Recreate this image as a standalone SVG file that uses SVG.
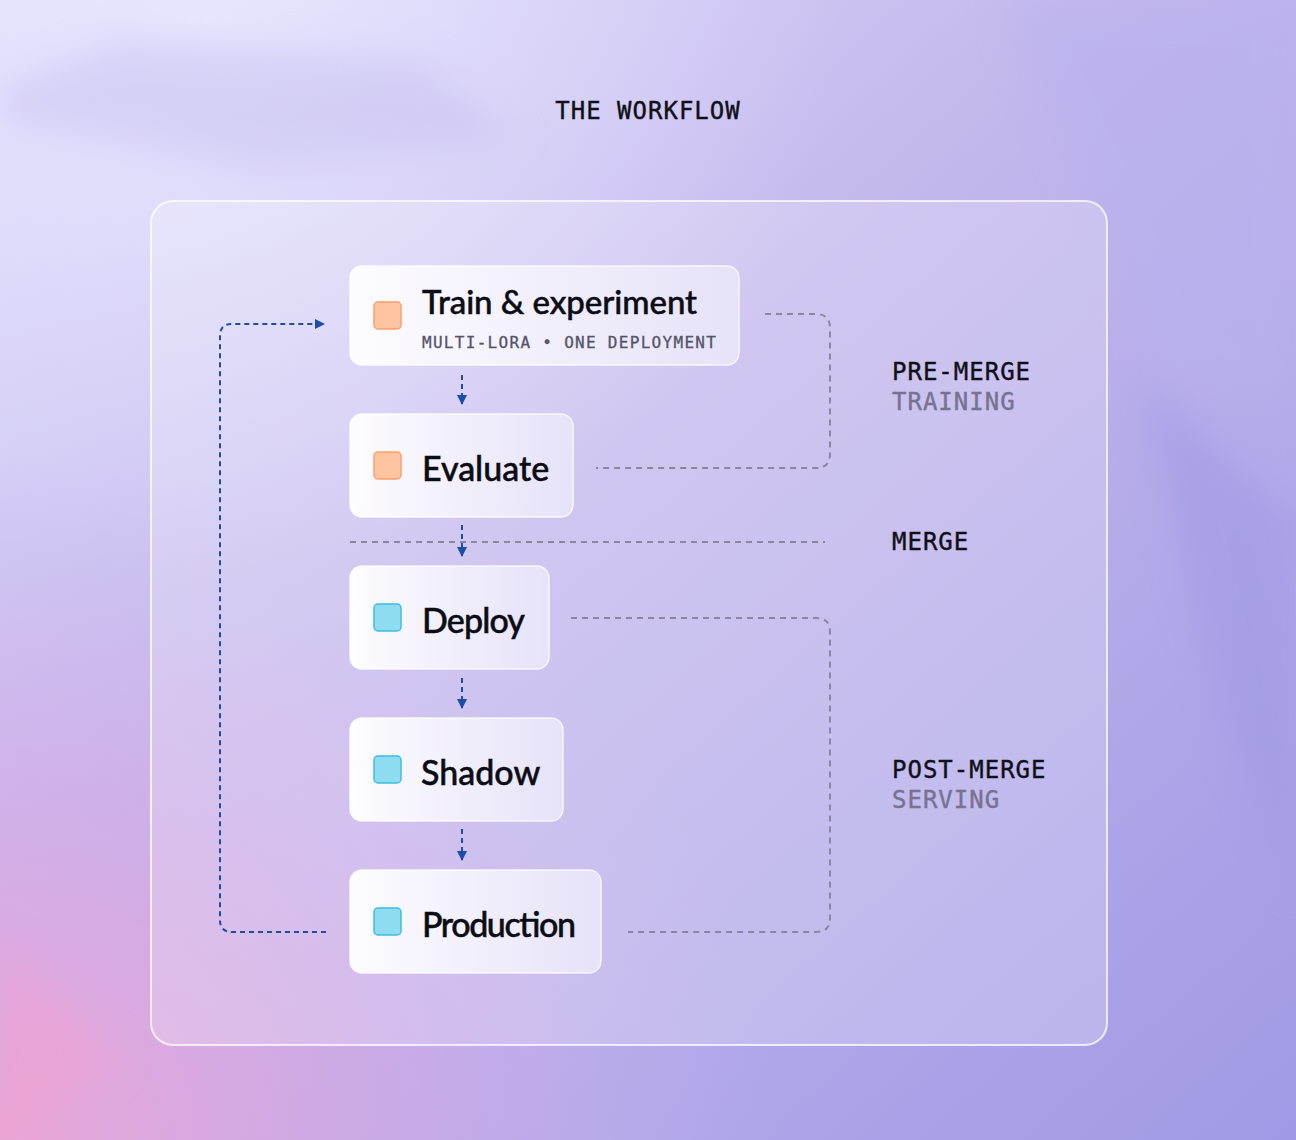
<svg xmlns="http://www.w3.org/2000/svg" width="1296" height="1140" viewBox="0 0 1296 1140">
<defs>
<linearGradient id="bg" x1="0" y1="0" x2="1" y2="1">
<stop offset="0" stop-color="#e2e0fc"/>
<stop offset="0.45" stop-color="#c2b6ec"/>
<stop offset="1" stop-color="#a09ae6"/>
</linearGradient>
<radialGradient id="pink" cx="0" cy="1" r="0.6">
<stop offset="0" stop-color="#eaa6d6"/>
<stop offset="0.5" stop-color="#d6a8e4" stop-opacity="0.6"/>
<stop offset="1" stop-color="#c8b4ee" stop-opacity="0"/>
</radialGradient>
<radialGradient id="light" cx="0.15" cy="0" r="0.5">
<stop offset="0" stop-color="#e8e6fe"/>
<stop offset="1" stop-color="#e0dcfc" stop-opacity="0"/>
</radialGradient>
<linearGradient id="node" x1="0" y1="0" x2="1" y2="0">
<stop offset="0" stop-color="#fdfcff"/>
<stop offset="1" stop-color="#e6e2f8"/>
</linearGradient>
<filter id="blur" x="-20%" y="-20%" width="140%" height="140%"><feGaussianBlur stdDeviation="18"/></filter>
<marker id="arr" viewBox="0 0 10 10" refX="9" refY="5" markerWidth="10" markerHeight="10" markerUnits="userSpaceOnUse" orient="auto">
<path d="M0,0 L10,5 L0,10 z" fill="#1a4ea8"/>
</marker>
<style>
.node rect.box{fill:url(#node);stroke:#ffffff;stroke-opacity:0.8;stroke-width:1.5}
.sq-o{fill:#ffc4a0;stroke:#ff9d6c;stroke-width:1.5}
.sq-b{fill:#8edcf0;stroke:#3cbfe0;stroke-width:1.5}
.title{font-family:Lato,"Noto Sans",sans-serif;font-weight:500;fill:#0c0c14;stroke:#0c0c14;stroke-width:0.5}
.mono{font-family:"DejaVu Sans Mono","Liberation Mono",monospace}
.lbl{font-size:24px;letter-spacing:1px;fill:#101018;stroke:#101018;stroke-width:0.4}
.sub{fill:#777292;stroke:#777292}
.flow{fill:none;stroke:#1a4ea8;stroke-width:2;stroke-dasharray:5 4}
.brk{fill:none;stroke:#8b86a0;stroke-width:2;stroke-dasharray:6 5}
</style>
</defs>
<rect width="1296" height="1140" fill="url(#bg)"/>
<rect width="1296" height="1140" fill="url(#light)"/>
<rect width="1296" height="1140" fill="url(#pink)"/>
<g filter="url(#blur)" opacity="0.5">
<path d="M0,90 L120,40 L420,60 L520,140 L260,170 L0,120 z" fill="#c8c0f0"/>
<path d="M1000,0 L1296,0 L1296,420 L1160,360 z" fill="#b8b2ee"/>
<path d="M1140,380 L1296,520 L1296,900 L1220,700 z" fill="#9c98e4"/>
<path d="M0,940 L120,1060 L0,1140 z" fill="#f0a0d0"/>
</g>
<rect x="151" y="201" width="956" height="844" rx="22" fill="#ffffff" fill-opacity="0.22" stroke="#ffffff" stroke-opacity="0.75" stroke-width="2"/>
<text class="mono lbl" x="648" y="119" text-anchor="middle">THE WORKFLOW</text>
<g id="connectors">
<path class="flow" d="M326,932 L232,932 Q220,932 220,920 L220,336 Q220,324 232,324 L324,324" marker-end="url(#arr)"/>
<path class="flow" d="M462,375 L462,404" marker-end="url(#arr)"/>
<path class="flow" d="M462,525 L462,556" marker-end="url(#arr)"/>
<path class="flow" d="M462,678 L462,708" marker-end="url(#arr)"/>
<path class="flow" d="M462,829 L462,860" marker-end="url(#arr)"/>
<path class="brk" d="M350,542 L825,542"/>
<path class="brk" d="M765,314 L816,314 Q830,314 830,328 L830,454 Q830,468 816,468 L596,468"/>
<path class="brk" d="M571,618 L816,618 Q830,618 830,632 L830,918 Q830,932 816,932 L628,932"/>
</g>
<g id="node-train" class="node">
<rect class="box" x="350" y="266" width="389" height="99" rx="12"/>
<rect class="sq-o" x="374" y="302" width="27" height="27" rx="4"/>
<text class="title" x="422" y="314" font-size="33" textLength="275">Train &amp; experiment</text>
<text class="mono" x="422" y="348" font-size="16" letter-spacing="1.3" fill="#56536a" stroke="#56536a" stroke-width="0.3">MULTI-LORA • ONE DEPLOYMENT</text>
</g>
<g id="node-evaluate" class="node">
<rect class="box" x="350" y="414" width="223" height="103" rx="12"/>
<rect class="sq-o" x="374" y="452" width="27" height="27" rx="4"/>
<text class="title" x="422" y="481" font-size="34">Evaluate</text>
</g>
<g id="node-deploy" class="node">
<rect class="box" x="350" y="566" width="199" height="103" rx="12"/>
<rect class="sq-b" x="374" y="604" width="27" height="27" rx="4"/>
<text class="title" x="422" y="633" font-size="34" textLength="103">Deploy</text>
</g>
<g id="node-shadow" class="node">
<rect class="box" x="350" y="718" width="213" height="103" rx="12"/>
<rect class="sq-b" x="374" y="756" width="27" height="27" rx="4"/>
<text class="title" x="421" y="785" font-size="34">Shadow</text>
</g>
<g id="node-production" class="node">
<rect class="box" x="350" y="870" width="251" height="103" rx="12"/>
<rect class="sq-b" x="374" y="908" width="27" height="27" rx="4"/>
<text class="title" x="422" y="937" font-size="34" textLength="154">Production</text>
</g>
<g id="labels">
<text class="mono lbl" x="892" y="380">PRE-MERGE</text>
<text class="mono lbl sub" x="892" y="410">TRAINING</text>
<text class="mono lbl" x="892" y="550">MERGE</text>
<text class="mono lbl" x="892" y="778">POST-MERGE</text>
<text class="mono lbl sub" x="892" y="808">SERVING</text>
</g>
</svg>
